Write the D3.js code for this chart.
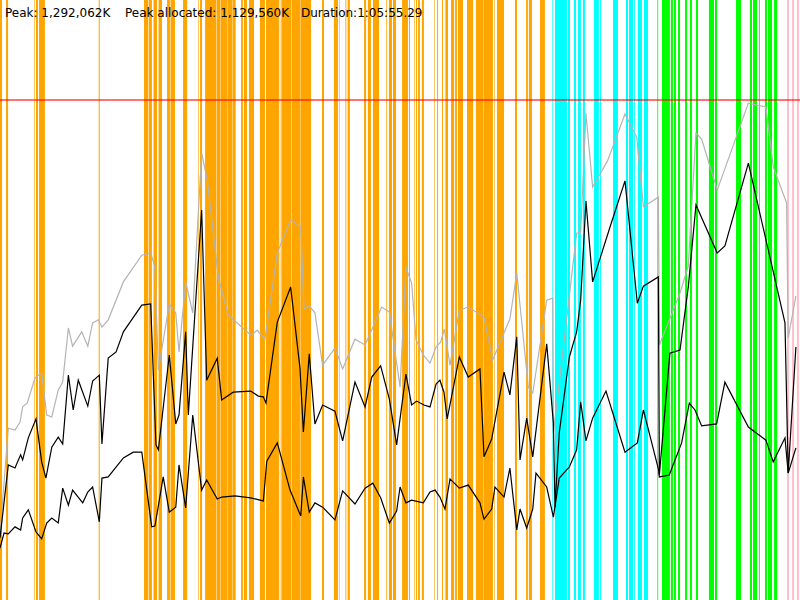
<!DOCTYPE html>
<html>
<head>
<meta charset="utf-8">
<script src="https://cdn.jsdelivr.net/npm/d3@7"></script>
<style>
  body { margin: 0; background: #fff; }
  text { font-family: "DejaVu Sans", sans-serif; font-size: 12px; fill: #000; }
</style>
</head>
<body>
<div id="memory_chart"></div>
<script>
// run summary (K, seconds)
var peakK = 1292062;
var peakAllocK = 1129560;
var durationSec = 3955.29;
var headerLabels = ["Peak: 1,292,062K", "Peak allocated: 1,129,560K", "Duration:1:05:55.29"];

// phase spans [start s, end s]
var orangeSpans = [
  [0, 10], [30, 40], [170, 173], [178, 188], [193, 222], [488, 493],
  [712, 732], [735, 751], [759, 776], [784, 801], [826, 840], [843, 865], [905, 925],
  [980, 983], [989, 999], [1014, 1069], [1071, 1088], [1090, 1122], [1124, 1147],
  [1149, 1165], [1192, 1201], [1206, 1221], [1231, 1256], [1285, 1310], [1315, 1379],
  [1383, 1386], [1391, 1440], [1442, 1483], [1485, 1538], [1592, 1602], [1651, 1671],
  [1676, 1679], [1707, 1710], [1714, 1717], [1720, 1730], [1800, 1810], [1819, 1834],
  [1844, 1874], [1910, 1914], [1923, 1938], [1943, 1958], [1988, 2017], [2022, 2027],
  [2047, 2050], [2057, 2062], [2067, 2076], [2086, 2096], [2146, 2149], [2161, 2166],
  [2185, 2190], [2200, 2203], [2205, 2215], [2230, 2245], [2250, 2259], [2264, 2289],
  [2309, 2339], [2353, 2388], [2390, 2437], [2443, 2446], [2457, 2492], [2546, 2556],
  [2601, 2610], [2615, 2630], [2670, 2694]
];
var cyanSpans = [
  [2731, 2735], [2744, 2803], [2808, 2818], [2838, 2848], [2858, 2872], [2882, 2892],
  [2937, 2961], [2966, 2971], [3031, 3055], [3095, 3105], [3110, 3130], [3135, 3139],
  [3154, 3174], [3184, 3204]
];
var greenSpans = [
  [3250, 3254], [3273, 3312], [3317, 3327], [3332, 3342], [3352, 3362], [3387, 3397],
  [3411, 3421], [3441, 3451], [3505, 3530], [3535, 3545], [3639, 3664], [3708, 3718],
  [3723, 3743], [3753, 3757], [3782, 3792], [3797, 3817], [3827, 3842]
];
var pinkSpans = [[3891, 3901], [3916, 3926], [3940, 3950]];

// memory samples [time s, MB]
var peakSeries = [
  [0, 168], [41, 444], [74, 439], [99, 460], [112, 499], [135, 509], [173, 574], [206, 587],
  [231, 478], [256, 473], [288, 543], [310, 563], [338, 703], [359, 656], [404, 693],
  [434, 656], [458, 716], [486, 724], [504, 705], [535, 724], [610, 822], [701, 891],
  [745, 897], [766, 860], [783, 594], [837, 765], [869, 742], [885, 641], [918, 822],
  [953, 742], [997, 1155], [1025, 1085], [1079, 835], [1129, 736], [1239, 685], [1272, 697],
  [1310, 674], [1371, 897], [1437, 982], [1487, 964], [1503, 752], [1529, 760], [1557, 742],
  [1595, 607], [1656, 651], [1694, 597], [1755, 674], [1805, 659], [1887, 757], [1925, 744],
  [1978, 550], [2007, 860], [2035, 819], [2057, 672], [2093, 633], [2126, 612], [2156, 654],
  [2179, 667], [2197, 700], [2225, 607], [2271, 749], [2315, 757], [2393, 731], [2436, 620],
  [2521, 726], [2555, 845], [2612, 550], [2634, 535], [2670, 659], [2703, 775], [2733, 780],
  [2736, 432], [2851, 948], [2871, 951], [2897, 1258], [2930, 1067], [3003, 1134],
  [3090, 1256], [3148, 1196], [3181, 1016], [3255, 1041], [3260, 659], [3362, 793],
  [3403, 863], [3441, 1207], [3469, 1191], [3546, 1059], [3700, 1284], [3787, 1274],
  [3823, 1119], [3889, 1026], [3897, 677], [3935, 786]
];
var allocSeries = [
  [0, 160], [41, 349], [74, 341], [102, 375], [112, 362], [140, 419], [178, 468], [206, 357],
  [227, 315], [256, 395], [288, 421], [310, 403], [338, 581], [362, 491], [387, 568],
  [434, 501], [458, 566], [491, 581], [504, 403], [535, 625], [574, 641], [610, 693],
  [701, 762], [745, 765], [771, 401], [783, 388], [837, 633], [869, 455], [885, 478],
  [918, 693], [931, 478], [997, 1008], [1022, 568], [1074, 625], [1096, 517], [1153, 537],
  [1239, 540], [1277, 527], [1302, 525], [1315, 509], [1371, 718], [1437, 809], [1483, 600],
  [1500, 434], [1529, 636], [1557, 455], [1595, 504], [1656, 488], [1694, 411], [1755, 563],
  [1805, 499], [1838, 576], [1882, 605], [1925, 519], [1961, 401], [2007, 584], [2035, 504],
  [2060, 514], [2096, 504], [2126, 499], [2156, 558], [2175, 568], [2195, 537], [2211, 468],
  [2271, 628], [2315, 576], [2373, 597], [2393, 370], [2431, 416], [2492, 589], [2521, 530],
  [2555, 680], [2571, 362], [2604, 470], [2634, 370], [2703, 662], [2736, 457], [2744, 240],
  [2765, 432], [2815, 628], [2851, 693], [2871, 775], [2897, 1031], [2930, 822], [3016, 964],
  [3090, 1083], [3151, 767], [3181, 811], [3255, 835], [3260, 323], [3312, 638], [3362, 646],
  [3403, 809], [3441, 1021], [3546, 897], [3584, 915], [3700, 1129], [3881, 716], [3897, 328],
  [3935, 654]
];
var liveSeries = [
  [0, 134], [20, 173], [41, 171], [74, 189], [102, 181], [112, 212], [140, 233], [178, 176],
  [206, 158], [231, 199], [256, 212], [288, 199], [310, 289], [338, 245], [359, 284],
  [409, 251], [434, 279], [458, 292], [491, 202], [504, 315], [535, 318], [610, 367],
  [659, 382], [701, 382], [750, 189], [766, 191], [807, 318], [837, 227], [869, 240],
  [885, 349], [918, 238], [953, 478], [997, 284], [1022, 310], [1074, 261], [1096, 266],
  [1162, 269], [1239, 264], [1302, 256], [1319, 359], [1371, 406], [1434, 284], [1487, 217],
  [1500, 318], [1529, 227], [1557, 251], [1595, 240], [1656, 207], [1694, 282], [1755, 248],
  [1805, 289], [1843, 302], [1882, 264], [1925, 199], [1961, 230], [1978, 292], [2007, 251],
  [2035, 258], [2093, 251], [2126, 279], [2151, 284], [2175, 266], [2200, 235], [2225, 313],
  [2271, 289], [2315, 297], [2373, 251], [2393, 209], [2431, 235], [2447, 292], [2492, 266],
  [2521, 341], [2555, 181], [2571, 235], [2604, 186], [2634, 235], [2650, 328], [2703, 292],
  [2736, 214], [2765, 315], [2815, 344], [2851, 388], [2871, 512], [2897, 411], [2930, 470],
  [2996, 540], [3090, 382], [3151, 406], [3181, 491], [3255, 339], [3260, 318], [3309, 323],
  [3370, 406], [3408, 509], [3436, 491], [3469, 450], [3543, 455], [3584, 563], [3700, 447],
  [3787, 413], [3823, 357], [3881, 419], [3897, 328], [3935, 393]
];

var width = 800, height = 600, plotTop = 100;

var svg = d3.select("#memory_chart")
  .append("svg")
  .attr("width", width)
  .attr("height", height);

var x = d3.scaleLinear()
  .domain([0, durationSec])
  .range([0, width]);

// peak sits on the red line
var y = d3.scaleLinear()
  .domain([0, peakK / 1000])
  .range([height, plotTop]);

// phase bands
function drawSpans(spans, colour) {
  svg.append("g")
    .selectAll("rect")
    .data(spans)
    .enter()
    .append("rect")
      .attr("x", function(d) { return x(d[0]); })
      .attr("y", 0)
      .attr("width", function(d) { return x(d[1]) - x(d[0]); })
      .attr("height", height)
      .attr("fill", colour);
}
drawSpans(orangeSpans, "#ffa500");
drawSpans(cyanSpans, "#00ffff");
drawSpans(greenSpans, "#00ff00");
drawSpans(pinkSpans, "#ffc0cb");

// peak line
svg.append("line")
  .attr("x1", 0)
  .attr("x2", width)
  .attr("y1", y(peakK / 1000))
  .attr("y2", y(peakK / 1000))
  .attr("stroke", "red")
  .attr("stroke-opacity", 0.55)
  .attr("stroke-width", 2);

var line = d3.line()
  .x(function(d) { return x(d[0]); })
  .y(function(d) { return y(d[1]); });

svg.append("path")
  .datum(peakSeries)
  .attr("d", line)
  .attr("fill", "none")
  .attr("stroke", "#b4b4b4")
  .attr("stroke-width", 1.2);

svg.append("path")
  .datum(allocSeries)
  .attr("d", line)
  .attr("fill", "none")
  .attr("stroke", "#000")
  .attr("stroke-width", 1.2);

svg.append("path")
  .datum(liveSeries)
  .attr("d", line)
  .attr("fill", "none")
  .attr("stroke", "#000")
  .attr("stroke-width", 1.2);

// header text
var headerX = [5, 125, 301];
svg.selectAll(".hdr")
  .data(headerLabels)
  .enter()
  .append("text")
    .attr("class", "hdr")
    .attr("x", function(d, i) { return headerX[i]; })
    .attr("y", 17)
    .text(function(d) { return d; });
</script>
</body>
</html>
